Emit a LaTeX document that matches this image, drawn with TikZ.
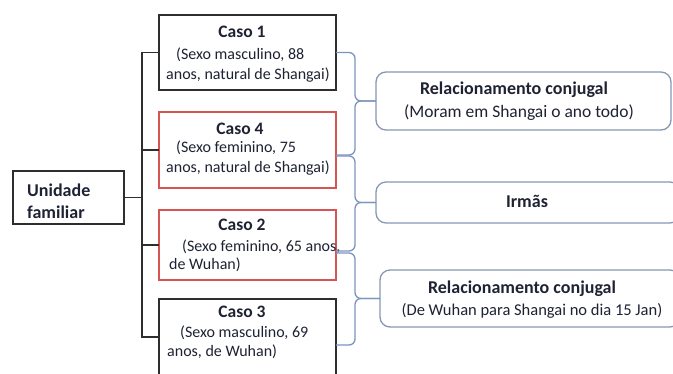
\documentclass[tikz,border=0pt]{standalone}
\usepackage{fontspec}
\setmainfont{Carlito}
\usetikzlibrary{calc}
\definecolor{boxline}{HTML}{2E2E2E}
\definecolor{redline}{HTML}{D65454}
\definecolor{braceline}{HTML}{7D95BE}
\definecolor{relline}{HTML}{8797B4}
\definecolor{txt}{HTML}{1F2233}
\tikzset{
  casebox/.style={draw=boxline, line width=1.4pt, rectangle, inner sep=0pt, outer sep=0pt, anchor=north west},
  redbox/.style={casebox, draw=redline},
  relbox/.style={draw=relline, line width=1.3pt, rectangle, rounded corners=10pt, inner sep=0pt, outer sep=0pt, anchor=north west},
  conn/.style={draw=boxline, line width=1.4pt},
  bracepath/.style={draw=braceline, line width=1.3pt, rounded corners=6pt},
  casetitle/.style={font=\fontsize{17.5}{20}\selectfont\bfseries, text=txt, inner sep=0pt},
  casetext/.style={font=\fontsize{16}{19}\selectfont, text=txt, inner sep=0pt, anchor=west},
  reltitle/.style={font=\fontsize{18}{20}\selectfont\bfseries, text=txt, inner sep=0pt},
  reltext/.style={font=\fontsize{17.5}{20}\selectfont, text=txt, inner sep=0pt},
}
\begin{document}
\begin{tikzpicture}[x=1pt,y=-1pt]
\useasboundingbox (0,0) rectangle (673,373);
\fill[white] (0,0) rectangle (673,373);

% unit box
\node[casebox, minimum width=111pt, minimum height=53pt] (u) at (13,171) {};
\node[casetitle, font=\fontsize{18}{20}\selectfont\bfseries, anchor=west] (ut1) at (27,190) {Unidade};
\node[casetitle, font=\fontsize{18}{20}\selectfont\bfseries, anchor=west] (ut2) at (27,212) {familiar};

% case boxes
\node[casebox, minimum width=177pt, minimum height=75pt] (c1) at (159,15) {};
\node[redbox, minimum width=177pt, minimum height=76pt] (c4) at (159,112) {};
\node[redbox, minimum width=177pt, minimum height=70pt] (c2) at (159,210) {};
\node[casebox, minimum width=177pt, minimum height=76pt] (c3) at (159,299) {};

\node[casetitle] (c1t) at (242,32) {Caso 1};
\node[casetext] (c1a) at (176,55) {(Sexo masculino, 88};
\node[casetext] (c1b) at (166,75) {anos, natural de Shangai)};

\node[casetitle] (c4t) at (240,129) {Caso 4};
\node[casetext] (c4a) at (176,148) {(Sexo feminino, 75};
\node[casetext] (c4b) at (166,168) {anos, natural de Shangai)};

\node[casetitle] (c2t) at (242,225) {Caso 2};
\node[casetext] (c2a) at (182,247) {(Sexo feminino, 65 anos,};
\node[casetext] (c2b) at (169,265) {de Wuhan)};

\node[casetitle] (c3t) at (242,312) {Caso 3};
\node[casetext] (c3a) at (180,333) {(Sexo masculino, 69};
\node[casetext] (c3b) at (167,352) {anos, de Wuhan)};

% trunk connectors
\coordinate (tx) at (142,0);
\draw[conn] (c1.west) -- (c1.west -| tx) -- (c3.west -| tx) -- (c3.west);
\draw[conn] (c4.west) -- (c4.west -| tx);
\draw[conn] (c2.west) -- (c2.west -| tx);
\draw[conn] (u.east) -- (u.east -| tx);

% relationship boxes
\node[relbox, minimum width=295pt, minimum height=58pt] (r1) at (376,72) {};
\node[relbox, minimum width=304pt, minimum height=41pt] (r2) at (376,182) {};
\node[relbox, minimum width=300pt, minimum height=57pt] (r3) at (380,270) {};

\node[reltitle] (r1t) at (514,90) {Relacionamento conjugal};
\node[reltext] (r1s) at (519,113) {(Moram em Shangai o ano todo)};
\node[reltitle] (r2t) at (527,201) {Irmãs};
\node[reltitle] (r3t) at (522,289) {Relacionamento conjugal};
\node[reltext, font=\fontsize{16.5}{19}\selectfont] (r3s) at (532,311) {(De Wuhan para Shangai no dia 15 Jan)};

% braces
\coordinate (bx) at (355,0);
\draw[bracepath] (c1.east) -| (bx |- r1.west) -- (r1.west);
\draw[bracepath] ($(c4.east)+(0,5)$) -| (bx |- r1.west) -- (r1.west);
\draw[bracepath] ($(c4.east)+(0,6)$) -| (bx |- r2.west) -- (r2.west);
\draw[bracepath] ($(c2.east)+(0,6)$) -| (bx |- r2.west) -- (r2.west);
\draw[bracepath] ($(c2.east)+(0,8)$) -| (bx |- r3.west) -- (r3.west);
\draw[bracepath] ($(c3.east)+(0,8)$) -| (bx |- r3.west) -- (r3.west);
\end{tikzpicture}
\end{document}
